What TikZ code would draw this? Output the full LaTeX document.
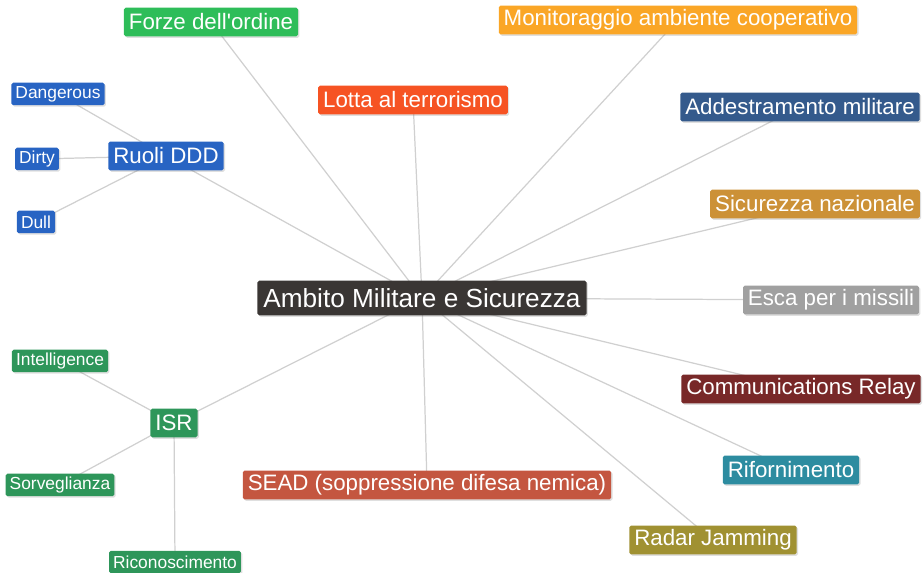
\documentclass[tikz,border=0pt]{standalone}
\usepackage{fontspec}
\setmainfont{Liberation Sans}
\usepackage{tikz}
\usetikzlibrary{positioning, shadows, backgrounds}
\definecolor{coreGrey}{RGB}{58,54,52}
\definecolor{forzeGreen}{RGB}{46,189,89}
\definecolor{monOrange}{RGB}{250,166,38}
\definecolor{lottaRed}{RGB}{246,83,35}
\definecolor{addBlue}{RGB}{52,90,140}
\definecolor{sicTan}{RGB}{204,145,55}
\definecolor{escaGrey}{RGB}{160,160,160}
\definecolor{relayRed}{RGB}{120,40,40}
\definecolor{rifTeal}{RGB}{45,140,160}
\definecolor{radarOlive}{RGB}{160,145,50}
\definecolor{seadRed}{RGB}{196,86,64}
\definecolor{isrGreen}{RGB}{46,150,90}
\definecolor{ddBlue}{RGB}{40,100,195}
\definecolor{linkGrey}{RGB}{208,208,208}
\tikzset{any box/.style={text=white, rounded corners=1pt, inner ysep=0pt,
          drop shadow={shadow xshift=0.8pt, shadow yshift=-0.8pt, opacity=0.25}}}
\tikzset{core node/.style={any box, fill=coreGrey, font=\fontsize{14.9}{16}\selectfont,
          inner xsep=3.4pt, minimum height=19.8pt}}
\tikzset{branch node/.style={any box, fill=#1, font=\fontsize{12.7}{14}\selectfont,
          inner xsep=2.8pt, minimum height=16.4pt}}
\tikzset{leaf node/.style={any box, fill=#1, font=\fontsize{9.9}{11}\selectfont,
          inner xsep=2.3pt, minimum height=12.8pt}}
\tikzset{link/.style={draw=linkGrey, line width=0.7pt}}

\begin{document}
\begin{tikzpicture}[x=0.02cm, y=-0.02cm]
    \useasboundingbox (0,0) rectangle (924,573);

    \node[core node] (core) at (422,298) {Ambito Militare e Sicurezza};

    \node[branch node=forzeGreen] (forze) at (211,22) {Forze dell\textquotesingle ordine};
    \node[branch node=monOrange] (monitor) at (678,20) {Monitoraggio ambiente cooperativo};
    \node[branch node=lottaRed] (lotta) at (413,100) {Lotta al terrorismo};
    \node[branch node=addBlue] (addestr) at (800,107) {Addestramento militare};
    \node[branch node=sicTan] (sicurezza) at (815,204) {Sicurezza nazionale};
    \node[branch node=escaGrey] (esca) at (831,300) {Esca per i missili};
    \node[branch node=relayRed] (relay) at (801,389) {Communications Relay};
    \node[branch node=rifTeal] (riforn) at (791,470) {Rifornimento};
    \node[branch node=radarOlive] (radar) at (713,540) {Radar Jamming};
    \node[branch node=seadRed] (sead) at (427,485) {SEAD (soppressione difesa nemica)};

    \node[branch node=isrGreen] (isr) at (174,423) {ISR};
    \node[leaf node=isrGreen] (intel) at (60,361) {Intelligence};
    \node[leaf node=isrGreen] (sorv) at (60,485) {Sorveglianza};
    \node[leaf node=isrGreen] (ricon) at (175,562) {Riconoscimento};

    \node[branch node=ddBlue] (ruoli) at (166,156) {Ruoli DDD};
    \node[leaf node=ddBlue] (danger) at (58,94) {Dangerous};
    \node[leaf node=ddBlue] (dirty) at (37,159) {Dirty};
    \node[leaf node=ddBlue] (dull) at (36,222) {Dull};

    % links behind the boxes
    \begin{scope}[on background layer]
      \foreach \n in {forze, monitor, lotta, addestr, sicurezza, esca, relay,
                      riforn, radar, sead, isr, ruoli}
        \draw [link] (core.center) to (\n.center);
      \foreach \n in {intel, sorv, ricon}
        \draw [link] (isr.center) to (\n.center);
      \foreach \n in {danger, dirty, dull}
        \draw [link] (ruoli.center) to (\n.center);
    \end{scope}
  \end{tikzpicture}
\end{document}
